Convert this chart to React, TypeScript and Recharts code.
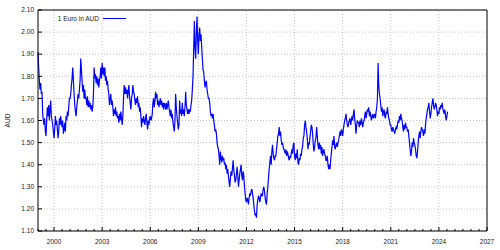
import { LineChart, Line, XAxis, YAxis, CartesianGrid, ReferenceLine } from 'recharts';

// Two readings per month (first / second half).
const startYear = 1999;
const y1999 = [1.91, 1.84, 1.78, 1.74, 1.77, 1.72, 1.73, 1.63, 1.60, 1.58, 1.61, 1.55, 1.53, 1.60, 1.66, 1.62, 1.67, 1.60, 1.65, 1.69, 1.62, 1.60, 1.58, 1.55];
const y2000 = [1.52, 1.56, 1.62, 1.58, 1.60, 1.56, 1.52, 1.55, 1.61, 1.58, 1.62, 1.59, 1.57, 1.60, 1.54, 1.56, 1.59, 1.55, 1.62, 1.60, 1.64, 1.62, 1.66, 1.70];
const y2001 = [1.70, 1.72, 1.76, 1.79, 1.84, 1.78, 1.72, 1.67, 1.64, 1.62, 1.66, 1.69, 1.72, 1.70, 1.74, 1.78, 1.88, 1.83, 1.78, 1.73, 1.76, 1.70, 1.74, 1.70];
const y2002 = [1.70, 1.67, 1.71, 1.66, 1.69, 1.66, 1.68, 1.65, 1.67, 1.64, 1.66, 1.72, 1.84, 1.79, 1.81, 1.77, 1.80, 1.76, 1.79, 1.75, 1.78, 1.80, 1.84, 1.79];
const y2003 = [1.86, 1.81, 1.84, 1.80, 1.84, 1.78, 1.80, 1.76, 1.78, 1.74, 1.72, 1.67, 1.70, 1.72, 1.67, 1.69, 1.66, 1.62, 1.65, 1.63, 1.66, 1.62, 1.64, 1.61];
const y2004 = [1.62, 1.59, 1.63, 1.60, 1.64, 1.61, 1.58, 1.62, 1.70, 1.76, 1.72, 1.75, 1.72, 1.74, 1.70, 1.73, 1.76, 1.71, 1.68, 1.65, 1.70, 1.72, 1.76, 1.73];
const y2005 = [1.72, 1.69, 1.67, 1.70, 1.68, 1.71, 1.66, 1.68, 1.64, 1.66, 1.62, 1.57, 1.61, 1.59, 1.62, 1.60, 1.58, 1.61, 1.63, 1.59, 1.56, 1.60, 1.58, 1.61];
const y2006 = [1.62, 1.60, 1.61, 1.63, 1.68, 1.70, 1.66, 1.69, 1.73, 1.70, 1.72, 1.67, 1.69, 1.66, 1.68, 1.70, 1.67, 1.69, 1.66, 1.68, 1.65, 1.68, 1.67, 1.65];
const y2007 = [1.68, 1.65, 1.67, 1.69, 1.66, 1.64, 1.62, 1.65, 1.61, 1.63, 1.59, 1.57, 1.55, 1.60, 1.72, 1.66, 1.62, 1.59, 1.56, 1.58, 1.69, 1.63, 1.65, 1.62];
const y2008 = [1.68, 1.63, 1.65, 1.62, 1.66, 1.73, 1.67, 1.65, 1.63, 1.65, 1.63, 1.65, 1.64, 1.67, 1.69, 1.74, 1.80, 1.92, 2.05, 1.93, 1.88, 2.00, 2.07, 1.96];
const y2009 = [1.90, 1.99, 2.02, 1.96, 1.99, 1.93, 1.88, 1.83, 1.82, 1.78, 1.75, 1.77, 1.78, 1.74, 1.72, 1.70, 1.70, 1.68, 1.64, 1.62, 1.63, 1.61, 1.63, 1.60];
const y2010 = [1.58, 1.55, 1.56, 1.54, 1.50, 1.48, 1.47, 1.44, 1.40, 1.46, 1.43, 1.41, 1.44, 1.42, 1.43, 1.40, 1.41, 1.38, 1.40, 1.36, 1.38, 1.35, 1.32, 1.30];
const y2011 = [1.34, 1.37, 1.35, 1.38, 1.42, 1.38, 1.35, 1.32, 1.33, 1.36, 1.39, 1.35, 1.30, 1.33, 1.36, 1.38, 1.40, 1.35, 1.33, 1.37, 1.35, 1.30, 1.27, 1.24];
const y2012 = [1.23, 1.25, 1.24, 1.22, 1.25, 1.27, 1.26, 1.28, 1.29, 1.27, 1.25, 1.22, 1.19, 1.17, 1.18, 1.16, 1.22, 1.24, 1.26, 1.25, 1.23, 1.25, 1.27, 1.26];
const y2013 = [1.26, 1.29, 1.30, 1.28, 1.25, 1.23, 1.22, 1.27, 1.30, 1.34, 1.38, 1.41, 1.44, 1.40, 1.46, 1.49, 1.45, 1.43, 1.42, 1.44, 1.44, 1.47, 1.50, 1.53];
const y2014 = [1.54, 1.57, 1.53, 1.55, 1.51, 1.49, 1.50, 1.48, 1.47, 1.46, 1.45, 1.47, 1.44, 1.46, 1.45, 1.43, 1.42, 1.44, 1.43, 1.45, 1.47, 1.45, 1.49, 1.50];
const y2015 = [1.44, 1.42, 1.45, 1.43, 1.47, 1.41, 1.40, 1.43, 1.42, 1.45, 1.44, 1.47, 1.48, 1.52, 1.53, 1.58, 1.60, 1.57, 1.55, 1.52, 1.47, 1.50, 1.49, 1.52];
const y2016 = [1.55, 1.58, 1.57, 1.54, 1.49, 1.46, 1.48, 1.51, 1.52, 1.57, 1.53, 1.49, 1.47, 1.50, 1.47, 1.49, 1.45, 1.48, 1.44, 1.46, 1.47, 1.45, 1.44, 1.42];
const y2017 = [1.42, 1.44, 1.40, 1.38, 1.40, 1.38, 1.42, 1.45, 1.48, 1.51, 1.49, 1.53, 1.48, 1.47, 1.49, 1.50, 1.48, 1.50, 1.51, 1.53, 1.55, 1.53, 1.56, 1.55];
const y2018 = [1.53, 1.56, 1.58, 1.60, 1.61, 1.63, 1.60, 1.58, 1.57, 1.59, 1.60, 1.61, 1.58, 1.60, 1.62, 1.60, 1.63, 1.65, 1.61, 1.58, 1.54, 1.58, 1.60, 1.59];
const y2019 = [1.59, 1.57, 1.60, 1.58, 1.61, 1.59, 1.57, 1.59, 1.60, 1.62, 1.64, 1.61, 1.63, 1.65, 1.64, 1.66, 1.62, 1.64, 1.62, 1.60, 1.62, 1.63, 1.61, 1.62];
const y2020 = [1.63, 1.61, 1.64, 1.66, 1.70, 1.86, 1.76, 1.72, 1.70, 1.67, 1.64, 1.66, 1.62, 1.64, 1.65, 1.62, 1.61, 1.64, 1.63, 1.66, 1.63, 1.61, 1.60, 1.58];
const y2021 = [1.58, 1.56, 1.55, 1.57, 1.56, 1.55, 1.54, 1.56, 1.57, 1.56, 1.58, 1.60, 1.59, 1.62, 1.60, 1.63, 1.61, 1.60, 1.57, 1.55, 1.58, 1.56, 1.59, 1.57];
const y2022 = [1.57, 1.55, 1.56, 1.53, 1.50, 1.47, 1.44, 1.46, 1.50, 1.48, 1.52, 1.50, 1.49, 1.47, 1.44, 1.43, 1.46, 1.50, 1.53, 1.55, 1.52, 1.55, 1.57, 1.56];
const y2023 = [1.55, 1.53, 1.56, 1.54, 1.58, 1.61, 1.63, 1.65, 1.66, 1.68, 1.64, 1.61, 1.63, 1.66, 1.68, 1.70, 1.67, 1.65, 1.66, 1.68, 1.67, 1.65, 1.62, 1.64];
const y2024 = [1.63, 1.66, 1.65, 1.67, 1.66, 1.68, 1.65, 1.64, 1.63, 1.65, 1.62, 1.60, 1.62, 1.64];

const yearly = [
  y1999, y2000, y2001, y2002, y2003, y2004, y2005, y2006, y2007, y2008, y2009, y2010, y2011,
  y2012, y2013, y2014, y2015, y2016, y2017, y2018, y2019, y2020, y2021, y2022, y2023, y2024,
];

const majorYears = [2000, 2003, 2006, 2009, 2012, 2015, 2018, 2021, 2024, 2027];
const xTicks = [
  1999, 1999.5, 2000, 2000.5, 2001, 2001.5, 2002, 2002.5, 2003, 2003.5, 2004, 2004.5, 2005, 2005.5,
  2006, 2006.5, 2007, 2007.5, 2008, 2008.5, 2009, 2009.5, 2010, 2010.5, 2011, 2011.5, 2012, 2012.5,
  2013, 2013.5, 2014, 2014.5, 2015, 2015.5, 2016, 2016.5, 2017, 2017.5, 2018, 2018.5, 2019, 2019.5,
  2020, 2020.5, 2021, 2021.5, 2022, 2022.5, 2023, 2023.5, 2024, 2024.5, 2025, 2025.5, 2026, 2026.5, 2027,
];
const yTicks = [1.1, 1.2, 1.3, 1.4, 1.5, 1.6, 1.7, 1.8, 1.9, 2.0, 2.1];

const data = yearly.flatMap((vals, k) =>
  vals.map((v, i) => ({ t: startYear + k + i / 24, aud: v })),
);

const font = '"Liberation Sans", Arial, sans-serif';
const lineColor = '#0000ff';
const gridColor = '#c4c4c4';

const BottomTick = ({ x, y, payload }: any) => {
  const major = majorYears.includes(payload.value);
  return (
    <g>
      <line x1={x} x2={x} y1={y} y2={y - (major ? 4 : 2)} stroke="#000" />
      {major && (
        <text x={x} y={y + 13} textAnchor="middle" fontSize={6.5} fontFamily={font} fill="#222">
          {payload.value}
        </text>
      )}
    </g>
  );
};

const TopTick = ({ x, y, payload }: any) => {
  const major = majorYears.includes(payload.value);
  return <line x1={x} x2={x} y1={y} y2={y + (major ? 4 : 2)} stroke="#000" />;
};

const LeftTick = ({ x, y, payload }: any) => (
  <g>
    <line x1={x} x2={x + 4} y1={y} y2={y} stroke="#000" />
    <text x={x - 4} y={y} dy="0.35em" textAnchor="end" fontSize={6.5} fontFamily={font} fill="#222">
      {Number(payload.value).toFixed(2)}
    </text>
  </g>
);

const RightTick = ({ x, y }: any) => <line x1={x} x2={x - 4} y1={y} y2={y} stroke="#000" />;

const AxisTitle = ({ viewBox }: any) => {
  const cx = viewBox.x + 8;
  const cy = viewBox.y + viewBox.height / 2;
  return (
    <text x={cx} y={cy} transform={`rotate(-90 ${cx} ${cy})`} textAnchor="middle" dy="0.35em"
      fontSize={6.5} fontFamily={font} fill="#222">
      AUD
    </text>
  );
};

export default function App() {
  return (
    <div style={{ position: 'relative', width: 500, height: 250 }}>
      <style>{'body{margin:0}'}</style>
      <LineChart width={500} height={250} data={data} margin={{ top: 0, right: 0, bottom: 0, left: 0 }}>
        <CartesianGrid vertical={false} stroke={gridColor} strokeDasharray="1 2" />
        {majorYears.slice(0, -1).map((yr) => (
          <ReferenceLine key={yr} x={yr} stroke={gridColor} strokeDasharray="1 2" />
        ))}
        <XAxis
          dataKey="t"
          type="number"
          domain={[1999, 2027]}
          ticks={xTicks}
          interval={0}
          height={19}
          tickSize={0}
          tickMargin={0}
          tickLine={false}
          axisLine={{ stroke: '#000' }}
          tick={<BottomTick />}
        />
        <XAxis
          xAxisId="top"
          orientation="top"
          type="number"
          domain={[1999, 2027]}
          ticks={xTicks}
          interval={0}
          height={10}
          tickSize={0}
          tickMargin={0}
          tickLine={false}
          axisLine={{ stroke: '#000' }}
          tick={<TopTick />}
        />
        <YAxis
          type="number"
          domain={[1.1, 2.1]}
          ticks={yTicks}
          interval={0}
          width={38}
          tickSize={0}
          tickMargin={0}
          tickLine={false}
          allowDataOverflow
          axisLine={{ stroke: '#000' }}
          tick={<LeftTick />}
          label={<AxisTitle />}
        />
        <YAxis
          yAxisId="right"
          orientation="right"
          type="number"
          domain={[1.1, 2.1]}
          ticks={yTicks}
          interval={0}
          width={13}
          tickSize={0}
          tickMargin={0}
          tickLine={false}
          axisLine={{ stroke: '#000' }}
          tick={<RightTick />}
        />
        <Line
          type="linear"
          dataKey="aud"
          stroke={lineColor}
          strokeWidth={1.2}
          dot={false}
          isAnimationActive={false}
        />
      </LineChart>
      <div
        style={{
          position: 'absolute',
          left: 40,
          top: 14,
          width: 59,
          textAlign: 'right',
          fontFamily: font,
          fontSize: 6.5,
          lineHeight: '9px',
          color: '#222',
          whiteSpace: 'nowrap',
        }}
      >
        1 Euro in AUD
      </div>
      <svg style={{ position: 'absolute', left: 103, top: 14 }} width={24} height={9}>
        <line x1={0} x2={23} y1={4.5} y2={4.5} stroke={lineColor} strokeWidth={1} />
      </svg>
    </div>
  );
}
